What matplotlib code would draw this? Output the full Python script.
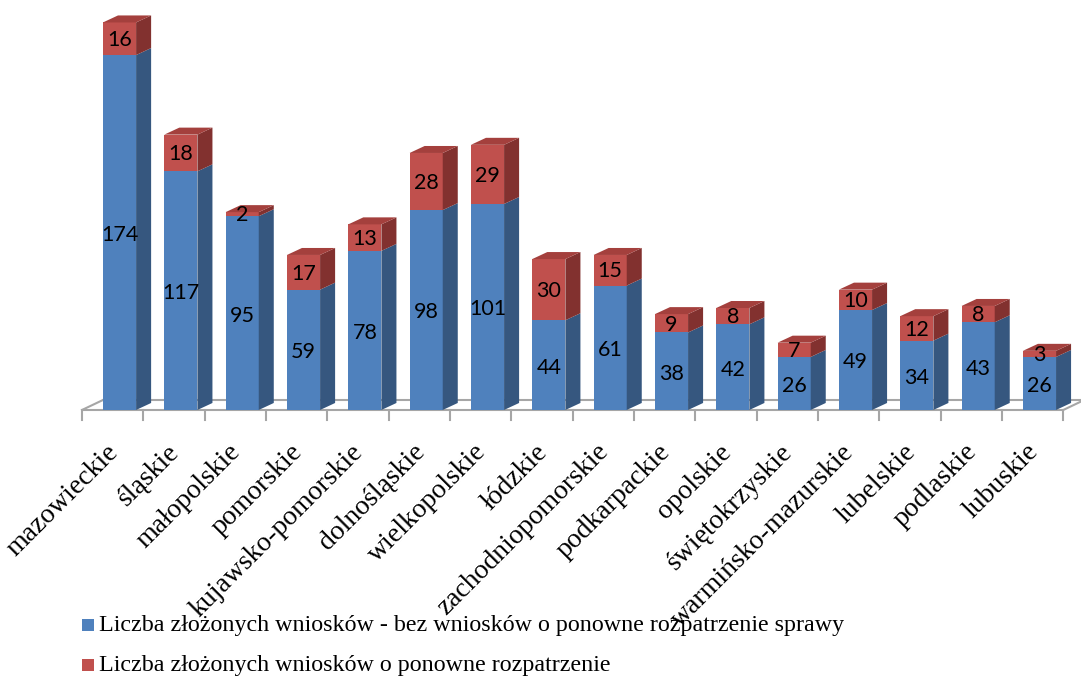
import matplotlib
matplotlib.use("Agg")
import matplotlib.pyplot as plt
from matplotlib.patches import Polygon, Rectangle

# Voivodeships and the number of applications filed
regions = ["mazowieckie", "śląskie", "małopolskie", "pomorskie", "kujawsko-pomorskie",
           "dolnośląskie", "wielkopolskie", "łódzkie", "zachodniopomorskie", "podkarpackie",
           "opolskie", "świętokrzyskie", "warmińsko-mazurskie", "lubelskie", "podlaskie",
           "lubuskie"]
base_counts = [174, 117, 95, 59, 78, 98, 101, 44, 61, 38, 42, 26, 49, 34, 43, 26]
reconsideration_counts = [16, 18, 2, 17, 13, 28, 29, 30, 15, 9, 8, 7, 10, 12, 8, 3]
series_labels = [
    "Liczba złożonych wniosków - bez wniosków o ponowne rozpatrzenie sprawy",
    "Liczba złożonych wniosków o ponowne rozpatrzenie",
]

# Colours: front / side / top for each series
blue = ("#4F81BD", "#36577F", "#5F8CC4")
red = ("#C0504D", "#82312F", "#A4403D")

W, H, DPI = 1081, 678, 100
fig = plt.figure(figsize=(W / DPI, H / DPI), dpi=DPI)
ax = fig.add_axes([0, 0, 1, 1])
ax.set_xlim(-1.837, 15.789)
ax.set_ylim(-131.4, 201.0)
ax.axis("off")

# Oblique 3D geometry (in data units)
face_left = -0.158
face_w = 0.54
dx, dy = 0.245, 3.43
floor_dx, floor_dy = 0.342, 4.9
n = len(regions)

# Floor of the chart
grey = "#A6A6A6"
ax.plot([-0.5, n - 0.5], [0, 0], color=grey, lw=1.5, zorder=1, solid_capstyle="butt")
ax.plot([-0.5 + floor_dx, n - 0.5 + floor_dx], [floor_dy, floor_dy], color=grey, lw=1.5, zorder=1)
ax.plot([-0.5, -0.5 + floor_dx], [0, floor_dy], color=grey, lw=1.5, zorder=1)
ax.plot([n - 0.5, n - 0.5 + floor_dx], [0, floor_dy], color=grey, lw=1.5, zorder=1)
for k in range(n + 1):
    ax.plot([k - 0.5, k - 0.5], [0, -4.9], color=grey, lw=1.5, zorder=1)


def segment(x0, bottom, height, colors, with_top):
    front, side, top = colors
    t = bottom + height
    ax.bar(x0, height, face_w, bottom=bottom, align="edge", color=front, lw=0, zorder=3)
    ax.add_patch(Polygon([(x0 + face_w, bottom), (x0 + face_w + dx, bottom + dy),
                          (x0 + face_w + dx, t + dy), (x0 + face_w, t)],
                         closed=True, fc=side, lw=0, zorder=3))
    if with_top:
        ax.add_patch(Polygon([(x0, t), (x0 + dx, t + dy), (x0 + face_w + dx, t + dy),
                              (x0 + face_w, t)], closed=True, fc=top, lw=0, zorder=3))


label_font = dict(family="Lato", fontsize=15.5, color="black", zorder=5)
for i, (b, r) in enumerate(zip(base_counts, reconsideration_counts)):
    x0 = i + face_left
    segment(x0, 0, b, blue, False)
    segment(x0, b, r, red, True)
    cx = x0 + face_w / 2
    ax.text(cx, b / 2 - 1.2, str(b), ha="center", va="center", **label_font)
    ax.text(cx, b + r / 2 - 0.6, str(r), ha="center", va="center", **label_font)

# Rotated category labels
for i, name in enumerate(regions):
    ax.text(i + 0.1, -21.0, name, rotation=45, rotation_mode="anchor",
            ha="right", va="baseline", family="Liberation Serif", fontsize=20)

# Legend
legend_font = dict(family="Liberation Serif", fontsize=17.3, va="center", ha="left")
for j, (label, col) in enumerate(zip(series_labels, (blue[0], red[0]))):
    yc = 1 - (625 + 40 * j) / H
    fig.patches.append(Rectangle((82 / W, yc - 6 / H), 12 / W, 12 / H,
                                 transform=fig.transFigure, fc=col, lw=0))
    fig.text(99 / W, yc, label, **legend_font)

fig.savefig("out.png", dpi=DPI)
